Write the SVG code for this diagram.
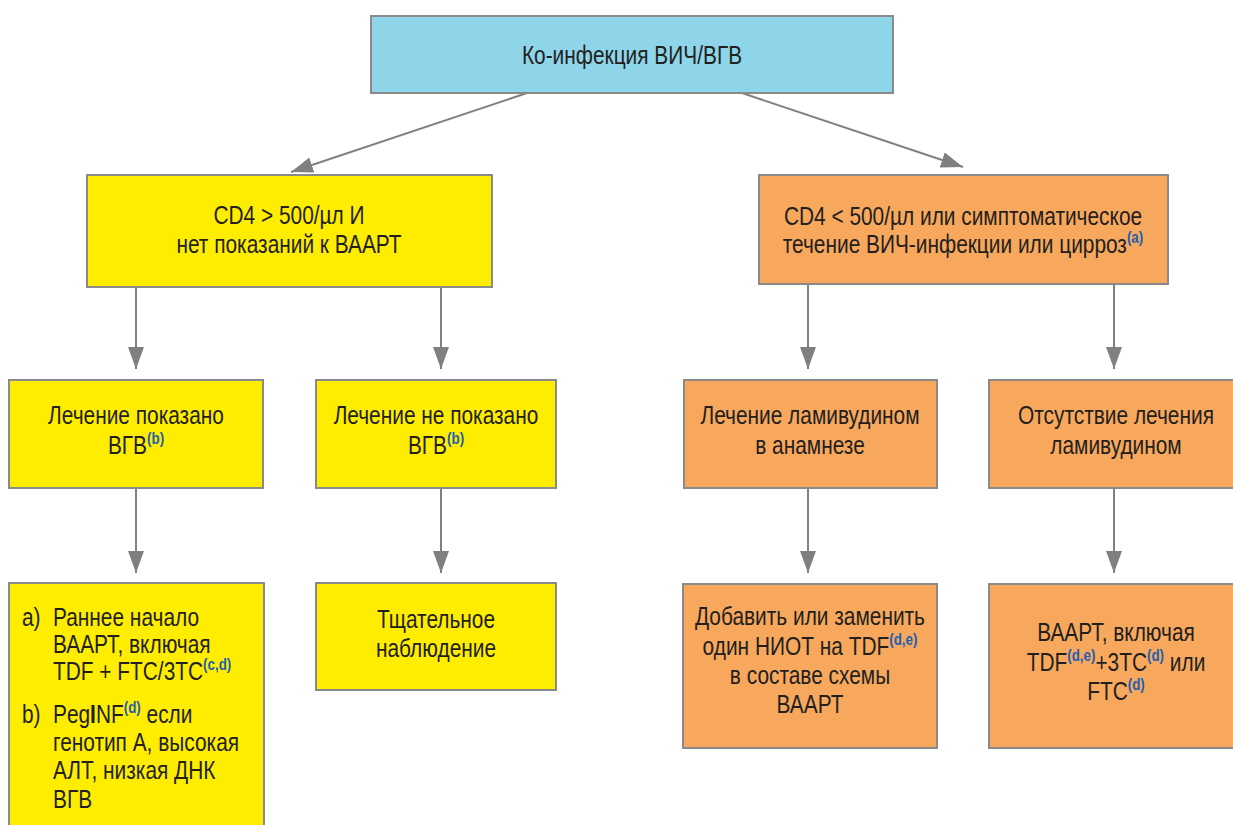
<svg xmlns="http://www.w3.org/2000/svg" width="1233" height="825" viewBox="0 0 1233 825">
<defs>
<marker id="ah" markerUnits="userSpaceOnUse" markerWidth="24" markerHeight="18" refX="22" refY="8" orient="auto">
<path d="M0,0 L22,8 L0,16 z" fill="#808080"/>
</marker>
<style>
.b{stroke:#8a8a8a;stroke-width:2}
.blue{fill:#8ed5ea}
.yel{fill:#ffed00}
.org{fill:#f7a85d}
text{font-family:"Liberation Sans",Arial,sans-serif;font-size:25px;fill:#231f20}
.c{text-anchor:middle}
.s{font-size:16px;font-weight:bold;fill:#1f5fb0}
.cn line{stroke:#808080;stroke-width:2;marker-end:url(#ah)}
</style>
</defs>
<rect width="1233" height="825" fill="#fff"/>
<g class="cn">
<line x1="527" y1="93" x2="291" y2="172"/>
<line x1="742" y1="93" x2="963" y2="167"/>
<line x1="136" y1="288" x2="136" y2="369"/>
<line x1="441" y1="288" x2="441" y2="369"/>
<line x1="808" y1="284" x2="808" y2="369"/>
<line x1="1114" y1="284" x2="1114" y2="369"/>
<line x1="136" y1="488" x2="136" y2="573"/>
<line x1="441" y1="488" x2="441" y2="573"/>
<line x1="808" y1="488" x2="808" y2="573"/>
<line x1="1114" y1="488" x2="1114" y2="573"/>
</g>
<g id="n-top">
<rect class="b blue" x="371" y="16" width="522" height="77"/>
<g transform="translate(632 0) scale(0.835 1) translate(-632 0)">
<text class="c" x="632" y="64">Ко-инфекция ВИЧ/ВГВ</text>
</g>
</g>
<g id="n-cd4hi">
<rect class="b yel" x="87" y="175" width="405" height="112"/>
<g transform="translate(289 0) scale(0.835 1) translate(-289 0)">
<text class="c" x="289" y="224">CD4 &gt; 500/µл И</text>
<text class="c" x="289" y="253">нет показаний к ВААРТ</text>
</g>
</g>
<g id="n-cd4lo">
<rect class="b org" x="759" y="175" width="409" height="109"/>
<g transform="translate(963 0) scale(0.835 1) translate(-963 0)">
<text class="c" x="963" y="225">CD4 &lt; 500/µл или симптоматическое</text>
<text class="c" x="963" y="253">течение ВИЧ-инфекции или цирроз<tspan class="s" dy="-10">(a)</tspan></text>
</g>
</g>
<g id="n-treat">
<rect class="b yel" x="9" y="380" width="254" height="108"/>
<g transform="translate(136 0) scale(0.835 1) translate(-136 0)">
<text class="c" x="136" y="424">Лечение показано</text>
<text class="c" x="136" y="454">ВГВ<tspan class="s" dy="-10">(b)</tspan></text>
</g>
</g>
<g id="n-notreat">
<rect class="b yel" x="316" y="380" width="240" height="108"/>
<g transform="translate(436 0) scale(0.835 1) translate(-436 0)">
<text class="c" x="436" y="424">Лечение не показано</text>
<text class="c" x="436" y="454">ВГВ<tspan class="s" dy="-10">(b)</tspan></text>
</g>
</g>
<g id="n-lam">
<rect class="b org" x="684" y="380" width="253" height="108"/>
<g transform="translate(810 0) scale(0.835 1) translate(-810 0)">
<text class="c" x="810" y="424">Лечение ламивудином</text>
<text class="c" x="810" y="454">в анамнезе</text>
</g>
</g>
<g id="n-nolam">
<rect class="b org" x="989" y="380" width="254" height="108"/>
<g transform="translate(1116 0) scale(0.835 1) translate(-1116 0)">
<text class="c" x="1116" y="424">Отсутствие лечения</text>
<text class="c" x="1116" y="454">ламивудином</text>
</g>
</g>
<g id="n-haart">
<rect class="b yel" x="9" y="583" width="255" height="250"/>
<g transform="translate(22 0) scale(0.835 1) translate(-22 0)">
<text x="22" y="626">a)</text>
<text x="22" y="723">b)</text>
</g>
<g transform="translate(53 0) scale(0.835 1) translate(-53 0)">
<text x="53" y="626">Раннее начало</text>
<text x="53" y="653">ВААРТ, включая</text>
<text x="53" y="680">TDF + FTC/3TC<tspan class="s" dy="-10">(c,d)</tspan></text>
<text x="53" y="723">Peg<tspan font-weight="bold">I</tspan>NF<tspan class="s" dy="-10">(d)</tspan><tspan dy="10"> если</tspan></text>
<text x="53" y="751">генотип А, высокая</text>
<text x="53" y="779">АЛТ, низкая ДНК</text>
<text x="53" y="808">ВГВ</text>
</g>
</g>
<g id="n-watch">
<rect class="b yel" x="316" y="583" width="240" height="107"/>
<g transform="translate(436 0) scale(0.835 1) translate(-436 0)">
<text class="c" x="436" y="628">Тщательное</text>
<text class="c" x="436" y="657">наблюдение</text>
</g>
</g>
<g id="n-add">
<rect class="b org" x="683" y="584" width="254" height="164"/>
<g transform="translate(810 0) scale(0.835 1) translate(-810 0)">
<text class="c" x="810" y="625">Добавить или заменить</text>
<text class="c" x="810" y="655">один НИОТ на TDF<tspan class="s" dy="-10">(d,e)</tspan></text>
<text class="c" x="810" y="684">в составе схемы</text>
<text class="c" x="810" y="713">ВААРТ</text>
</g>
</g>
<g id="n-haart2">
<rect class="b org" x="989" y="584" width="254" height="164"/>
<g transform="translate(1116 0) scale(0.835 1) translate(-1116 0)">
<text class="c" x="1116" y="641">ВААРТ, включая</text>
<text class="c" x="1116" y="671">TDF<tspan class="s" dy="-10">(d,e)</tspan><tspan dy="10">+3TC</tspan><tspan class="s" dy="-10">(d)</tspan><tspan dy="10"> или</tspan></text>
<text class="c" x="1116" y="700">FTC<tspan class="s" dy="-10">(d)</tspan></text>
</g>
</g>
</svg>
